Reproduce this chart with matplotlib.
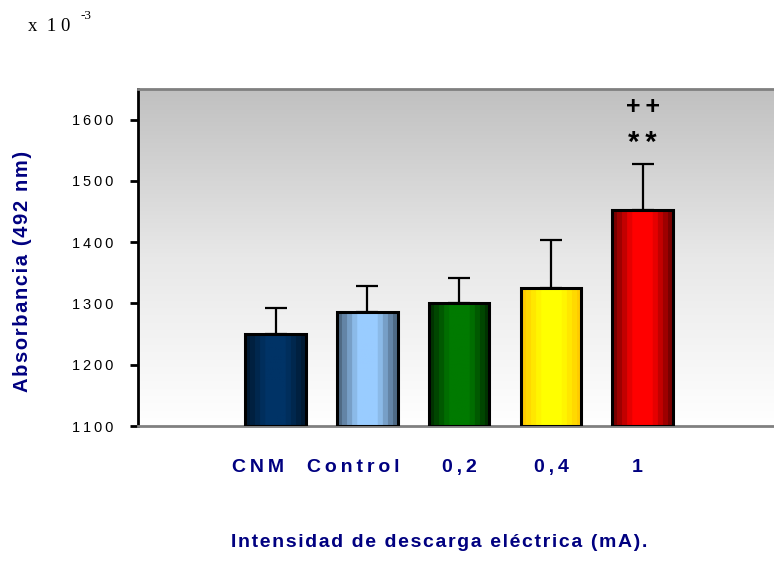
import numpy as np
import matplotlib
matplotlib.use("Agg")
import matplotlib.pyplot as plt
from matplotlib.colors import LinearSegmentedColormap
from matplotlib.transforms import ScaledTranslation

plt.rcParams['font.family'] = ['Liberation Sans', 'DejaVu Sans']

# datos
grupos = ["CNM", "Control", "0,2", "0,4", "1"]
absorbancia = [1250, 1286, 1300, 1325, 1452]
error_sup = [42, 42, 41, 78, 75]
# colores: borde oscuro, centro claro
colores = [("#001a33", "#003366"),
           ("#4f6a85", "#99ccff"),
           ("#003300", "#007a00"),
           ("#ffcc00", "#ffff00"),
           ("#7a0000", "#ff0000")]
marcas = "**"
marcas2 = "++"

NAVY = "#000080"


def espaciado(s, sep="\u2009"):
    # imita el espaciado ancho de letras del original
    return sep.join(s)


fig = plt.figure(figsize=(7.74, 5.65), dpi=100)
ax = fig.add_axes([0.1783, 0.246, 0.8217, 0.5965])

ymin, ymax = 1100, 1650
xmin, xmax = -1.5, 5.43
ancho = 0.66

# fondo degradado gris (arriba) -> blanco (abajo)
grad = np.linspace(0, 1, 256).reshape(-1, 1)
cmap_fondo = LinearSegmentedColormap.from_list("f", ["#ffffff", "#e8e8e8", "#c0c0c0"])
ax.imshow(grad, extent=[xmin, xmax, ymin, ymax], aspect="auto", cmap=cmap_fondo,
          origin="lower", zorder=0)

x = np.arange(len(grupos))
for i, (v, e, (c1, c2)) in enumerate(zip(absorbancia, error_sup, colores)):
    cm = LinearSegmentedColormap.from_list("b%d" % i, [c1, c2, c2, c1], N=12)
    fila = np.linspace(0, 1, 60).reshape(1, -1)
    ax.imshow(fila, extent=[i - ancho / 2, i + ancho / 2, ymin, v], aspect="auto",
              cmap=cm, zorder=2, origin="lower")
    ax.bar(i, v - ymin, ancho, bottom=ymin, facecolor="none", edgecolor="black",
           linewidth=2.2, zorder=3)
    ax.errorbar(i, v, yerr=[[0], [e]], fmt="none", ecolor="black", elinewidth=1.6,
                capsize=8, capthick=1.6, zorder=1)

ax.text(4, 1620, espaciado(marcas2), ha="center", va="center",
        fontsize=18, fontweight="bold")
ax.text(4, 1562, espaciado(marcas), ha="center", va="center",
        fontsize=21, fontweight="bold")

ax.set_xlim(xmin, xmax)
ax.set_ylim(ymin, ymax)
ax.set_yticks([1100, 1200, 1300, 1400, 1500, 1600])
ax.set_yticklabels([espaciado(str(t)) for t in [1100, 1200, 1300, 1400, 1500, 1600]],
                   fontsize=10.5)
ax.set_xticks(x)
ax.set_xticklabels([espaciado(g) for g in grupos], fontsize=14, fontweight="bold",
                   color=NAVY)
ax.tick_params(axis="x", length=0, pad=24)
ax.tick_params(axis="y", length=6, width=2, pad=12, direction="out")

# desplazamiento horizontal de las etiquetas como en el original
desplaz = [-18, -14, 0, 0, -6]
for lab, dx in zip(ax.get_xticklabels(), desplaz):
    lab.set_transform(lab.get_transform() + ScaledTranslation(dx / 100, 0, fig.dpi_scale_trans))

for lado in ["top", "bottom"]:
    ax.spines[lado].set_color("#808080")
    ax.spines[lado].set_linewidth(2)
ax.spines["left"].set_linewidth(2)
ax.spines["right"].set_visible(False)

ax.set_ylabel(espaciado("Absorbancia (492 nm)", "\u200a"), fontsize=14.5,
              fontweight="bold", color=NAVY)
ax.yaxis.set_label_coords(-0.166, 0.46)
fig.text(0.568, 0.025, espaciado("Intensidad de descarga eléctrica (mA).", "\u200a"),
         ha="center", va="bottom", fontsize=14, fontweight="bold", color=NAVY)

fig.text(0.036, 0.953, "x  1 0", family="Liberation Serif", fontsize=13.5, va="center")
fig.text(0.104, 0.972, "-3", family="Liberation Serif", fontsize=9.5, va="center")

fig.savefig("out.png", dpi=100)
